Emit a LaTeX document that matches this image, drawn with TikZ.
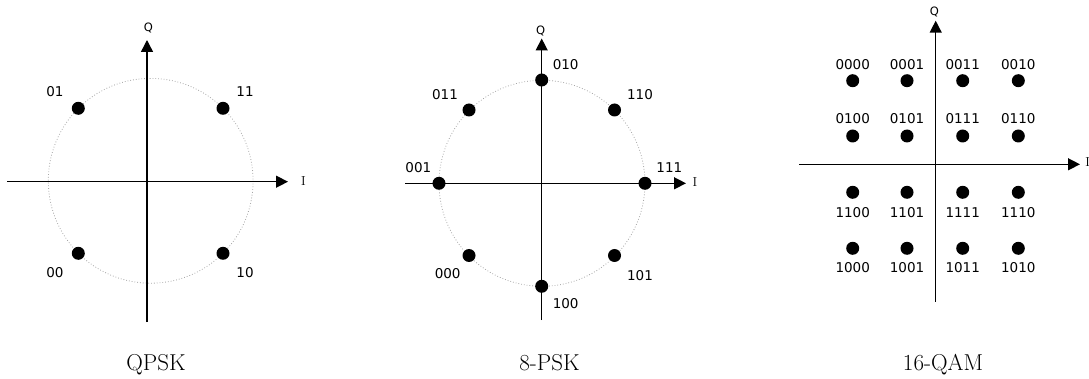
\documentclass[tikz,border=0pt]{standalone}
\usepackage{fontspec}
\newfontfamily\lblfont{DejaVu Sans}
\usetikzlibrary{arrows.meta}
\tikzset{
  dot/.style={circle,fill=black,inner sep=0pt,minimum size=13pt},
  axis/.style={line width=1.4pt,-{Triangle[length=12pt,width=12pt]}},
  ring/.style={gray!70,line width=0.8pt,dotted},
  lbl/.style={font=\lblfont\fontsize{13.5}{14}\selectfont,inner sep=0pt},
  qlbl/.style={font=\lblfont\fontsize{11.5}{12}\selectfont,inner sep=0pt},
  ilbl/.style={font=\fontsize{13}{14}\selectfont,inner sep=0pt},
  captxt/.style={font=\fontsize{23}{26}\selectfont,inner sep=0pt,anchor=base}
}
\begin{document}
\begin{tikzpicture}[x=1pt,y=-1pt]
\useasboundingbox (0,0) rectangle (1089,379);
% ---------------- QPSK ----------------
\coordinate (qa) at (7,181.7);
\coordinate (qb) at (288,181.7);
\coordinate (qc) at (147,322);
\coordinate (qd) at (147,40);
\draw[ring] (150.7,180.8) circle[radius=102.4];
\draw[axis] (qa) -- (qb);
\draw[axis] (qc) -- (qd);
\node[dot] (q01) at (78.3,108.3) {};
\node[dot] (q11) at (223,108.3) {};
\node[dot] (q00) at (78.3,253.3) {};
\node[dot] (q10) at (223,253.3) {};
\node[lbl] (lq01) at (55,91.7) {01};
\node[lbl] (lq11) at (245,91.7) {11};
\node[lbl] (lq00) at (55,272.7) {00};
\node[lbl] (lq10) at (245,272.7) {10};
\node[qlbl] (qQ) at (148.3,28.3) {Q};
\node[ilbl] (qI) at (303.3,181) {I};
\node[captxt] (qcap) at (156,370.7) {QPSK};
% ---------------- 8-PSK ----------------
\coordinate (pa) at (405,183.3);
\coordinate (pb) at (686,183.3);
\coordinate (pc) at (541.7,320);
\coordinate (pd) at (541.7,38.5);
\draw[ring] (542,183.3) circle[radius=103];
\draw[axis] (pa) -- (pb);
\draw[axis] (pc) -- (pd);
\node[dot] (p010) at (541.7,80) {};
\node[dot] (p100) at (541.7,286.3) {};
\node[dot] (p001) at (439,183.3) {};
\node[dot] (p111) at (645,183.3) {};
\node[dot] (p011) at (469,110) {};
\node[dot] (p110) at (614.5,110) {};
\node[dot] (p000) at (469,255.5) {};
\node[dot] (p101) at (614.5,255.5) {};
\node[lbl] (lp010) at (565.7,65) {010};
\node[lbl] (lp011) at (445,95) {011};
\node[lbl] (lp110) at (640,95) {110};
\node[lbl] (lp001) at (418.3,167.7) {001};
\node[lbl] (lp111) at (669.3,167.7) {111};
\node[lbl] (lp000) at (447.7,273.3) {000};
\node[lbl] (lp101) at (640,276) {101};
\node[lbl] (lp100) at (565.7,303.3) {100};
\node[qlbl] (pQ) at (540.7,31) {Q};
\node[ilbl] (pI) at (695,182) {I};
\node[captxt] (pcap) at (549.5,370.7) {8-PSK};
% ---------------- 16-QAM ----------------
\coordinate (ma) at (799.3,164.3);
\coordinate (mb) at (1080,164.3);
\coordinate (mc) at (935.7,301.7);
\coordinate (md) at (935.7,20.7);
\draw[axis] (ma) -- (mb);
\draw[axis] (mc) -- (md);
\foreach \lab/\x/\y/\ly in {
  0000/852.7/80.7/65, 0001/907/80.7/65, 0011/962.7/80.7/65, 0010/1018.3/80.7/65,
  0100/852.7/136/119, 0101/907/136/119, 0111/962.7/136/119, 0110/1018.3/136/119,
  1100/852.7/192.3/212.3, 1101/907/192.3/212.3, 1111/962.7/192.3/212.3, 1110/1018.3/192.3/212.3,
  1000/852.7/248.3/267.7, 1001/907/248.3/267.7, 1011/962.7/248.3/267.7, 1010/1018.3/248.3/267.7}{
  \node[dot] (m\lab) at (\x,\y) {};
  \node[lbl] (lm\lab) at (\x,\ly) {\lab};
}
\node[qlbl] (mQ) at (934.3,11.7) {Q};
\node[ilbl] (mI) at (1087.7,162.3) {I};
\node[captxt] (mcap) at (943,370.7) {16-QAM};
\end{tikzpicture}
\end{document}
